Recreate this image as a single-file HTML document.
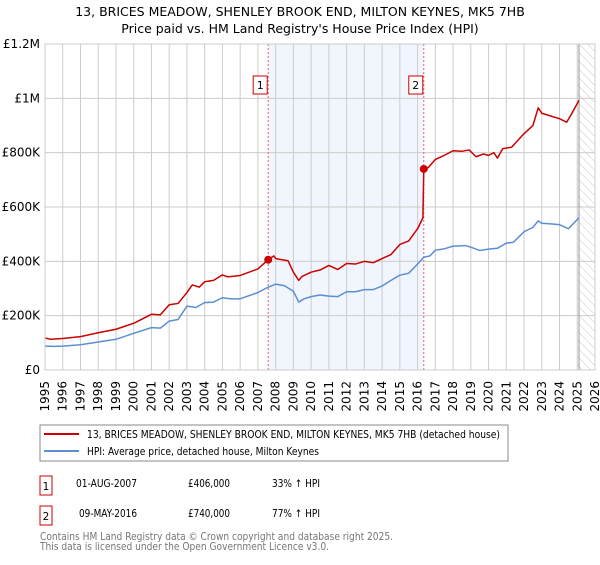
<!DOCTYPE html>
<html><head><meta charset="utf-8"><style>
body{margin:0;background:#fff;font-family:"Liberation Sans","DejaVu Sans",sans-serif}
svg text{font-family:"DejaVu Sans","Liberation Sans",sans-serif}
</style></head><body>
<svg id="c" width="600" height="560" xmlns="http://www.w3.org/2000/svg">
<defs><pattern id="hatch" width="6" height="6" patternUnits="userSpaceOnUse" patternTransform="rotate(-45)"><line x1="0" y1="0" x2="0" y2="6" stroke="#bbb" stroke-width="0.8"/></pattern></defs>
<text x="300" y="16" text-anchor="middle" font-size="12.5">13, BRICES MEADOW, SHENLEY BROOK END, MILTON KEYNES, MK5 7HB</text>
<text x="300" y="33" text-anchor="middle" font-size="12.5">Price paid vs. HM Land Registry's House Price Index (HPI)</text>
<g id="plot"></g>
<rect x="40" y="425" width="468" height="36" fill="#fff" stroke="#888"/>
<line x1="44" y1="434" x2="79" y2="434" stroke="#cc0000" stroke-width="2"/>
<text x="87" y="438" font-size="10.5" textLength="413" lengthAdjust="spacingAndGlyphs">13, BRICES MEADOW, SHENLEY BROOK END, MILTON KEYNES, MK5 7HB (detached house)</text>
<line x1="44" y1="451" x2="79" y2="451" stroke="#5b8fd4" stroke-width="2"/>
<text x="87" y="455" font-size="10.5" textLength="232" lengthAdjust="spacingAndGlyphs">HPI: Average price, detached house, Milton Keynes</text>
<g>
<rect x="40" y="476" width="12" height="19" fill="#fff" stroke="#cc0000"/><text x="46" y="490" font-size="10.5" text-anchor="middle">1</text>
<text x="76" y="487" font-size="10.5" textLength="61" lengthAdjust="spacingAndGlyphs">01-AUG-2007</text>
<text x="188" y="487" font-size="10.5" textLength="42" lengthAdjust="spacingAndGlyphs">£406,000</text>
<text x="272" y="487" font-size="10.5" textLength="48" lengthAdjust="spacingAndGlyphs">33% ↑ HPI</text></g>
<g>
<rect x="40" y="506" width="12" height="19" fill="#fff" stroke="#cc0000"/><text x="46" y="520" font-size="10.5" text-anchor="middle">2</text>
<text x="79" y="517" font-size="10.5" textLength="58" lengthAdjust="spacingAndGlyphs">09-MAY-2016</text>
<text x="188" y="517" font-size="10.5" textLength="42" lengthAdjust="spacingAndGlyphs">£740,000</text>
<text x="272" y="517" font-size="10.5" textLength="48" lengthAdjust="spacingAndGlyphs">77% ↑ HPI</text></g>
<text x="40" y="540" font-size="10.5" fill="#777" textLength="353" lengthAdjust="spacingAndGlyphs">Contains HM Land Registry data © Crown copyright and database right 2025.</text>
<text x="40" y="550" font-size="10.5" fill="#777" textLength="289" lengthAdjust="spacingAndGlyphs">This data is licensed under the Open Government Licence v3.0.</text>
</svg>
<script>
const yTicks=[0,200,400,600,800,1000,1200];
const yTickLabels=["£0","£200K","£400K","£600K","£800K","£1M","£1.2M"];
const xYears=[1995,1996,1997,1998,1999,2000,2001,2002,2003,2004,2005,2006,2007,2008,2009,2010,2011,2012,2013,2014,2015,2016,2017,2018,2019,2020,2021,2022,2023,2024,2025,2026];
const saleYears=[2007.58,2016.35];
const saleValues=[406,740];
const saleLabels=["1","2"];
const hpiYears=[1995,1995.5,1996,1997,1998,1999,2000,2001,2001.5,2002,2002.5,2003,2003.5,2004,2004.5,2005,2005.5,2006,2007,2007.58,2008,2008.5,2009,2009.3,2009.6,2010,2010.5,2011,2011.5,2012,2012.5,2013,2013.5,2014,2014.5,2015,2015.5,2016,2016.35,2016.7,2017,2017.5,2018,2018.7,2019,2019.5,2020,2020.5,2021,2021.4,2022,2022.5,2022.8,2023,2023.5,2024,2024.5,2025.1];
const hpiValues=[88,87,88,93,103,113,135,156,154,180,186,235,230,248,250,266,262,262,285,305,316,310,290,250,262,270,276,272,270,288,288,296,296,309,330,349,356,390,415,420,441,446,456,458,452,440,445,448,467,470,509,525,549,540,538,535,520,561];
const propYears=[1995,1995.3,1996,1997,1998,1999,2000,2001,2001.5,2002,2002.5,2003,2003.3,2003.7,2004,2004.5,2005,2005.3,2006,2007,2007.58,2007.9,2008,2008.7,2009,2009.3,2009.5,2010,2010.5,2011,2011.5,2012,2012.5,2013,2013.5,2014,2014.5,2015,2015.5,2016,2016.3,2016.35,2016.6,2017,2017.5,2018,2018.5,2018.9,2019.3,2019.7,2020,2020.3,2020.5,2020.8,2021.3,2022,2022.5,2022.8,2023,2023.5,2024,2024.4,2024.7,2025.1];
const propValues=[118,113,116,123,137,150,172,205,203,240,245,285,313,305,325,330,350,343,348,372,406,420,410,402,360,330,345,360,368,385,370,392,390,400,395,410,425,462,475,520,560,740,745,775,790,807,805,810,785,795,790,800,780,815,820,870,900,965,945,935,925,912,945,993];
const NS="http://www.w3.org/2000/svg";
const X0=45,X1=595,Y0=370,Y1=44;
const xs=y=>X0+(y-1995)*(X1-X0)/31;
const ys=v=>Y0-v*(Y0-Y1)/1200;
const g=document.getElementById('plot');
function mk(t,a){const e=document.createElementNS(NS,t);for(const k in a)e.setAttribute(k,a[k]);g.appendChild(e);return e;}
let e;
e=mk('rect',{x:xs(saleYears[0]),y:Y1,width:xs(saleYears[1])-xs(saleYears[0]),height:Y0-Y1,fill:'#eef2fc',opacity:0.8});


e=mk('rect',{x:xs(2025),y:Y1,width:X1-xs(2025),height:Y0-Y1,fill:'url(#hatch)'});


xYears.forEach(yr=>{
 e=mk('line',{x1:xs(yr),x2:xs(yr),y1:Y1,y2:Y0,stroke:'#ccc','stroke-width':1});
 
 
 e=mk('text',{transform:`translate(${xs(yr)+4},381) rotate(-90)`,'text-anchor':'end','font-size':12});
 e.textContent=yr;
 
 
});
yTicks.forEach((v,i)=>{
 e=mk('line',{x1:X0,x2:X1,y1:ys(v),y2:ys(v),stroke:'#ccc','stroke-width':1});
 
 
 e=mk('text',{x:40,y:ys(v)+4,'text-anchor':'end','font-size':12});
 e.textContent=yTickLabels[i];
 
 
});
e=mk('line',{x1:xs(2025.1),x2:xs(2025.1),y1:Y1,y2:Y0,stroke:'#999','stroke-width':1});


saleYears.forEach((yr,i)=>{
 e=mk('line',{x1:xs(yr),x2:xs(yr),y1:Y1,y2:Y0,stroke:'#e06070','stroke-width':1,'stroke-dasharray':'2,2'});
 
 
 e=mk('rect',{x:xs(yr)-15,y:76,width:14,height:18,fill:'#fff',stroke:'#cc0000'});
 
 
 e=mk('text',{x:xs(yr)-8,y:89,'text-anchor':'middle','font-size':11});
 e.textContent=saleLabels[i];
 
 
});
function line(xa,va,col){return mk('polyline',{points:xa.map((y,i)=>xs(y)+','+ys(va[i])).join(' '),fill:'none',stroke:col,'stroke-width':1.5,'stroke-linejoin':'round'});}
e=line(hpiYears,hpiValues,'#5b8fd4');


e=line(propYears,propValues,'#cc0000');


saleYears.forEach((yr,i)=>{
 e=mk('circle',{cx:xs(yr),cy:ys(saleValues[i]),r:4,fill:'#cc0000'});
 
 
});
e=mk('rect',{x:X0,y:Y1,width:X1-X0,height:Y0-Y1,fill:'none',stroke:'#ccc'});


</script>
</body></html>
